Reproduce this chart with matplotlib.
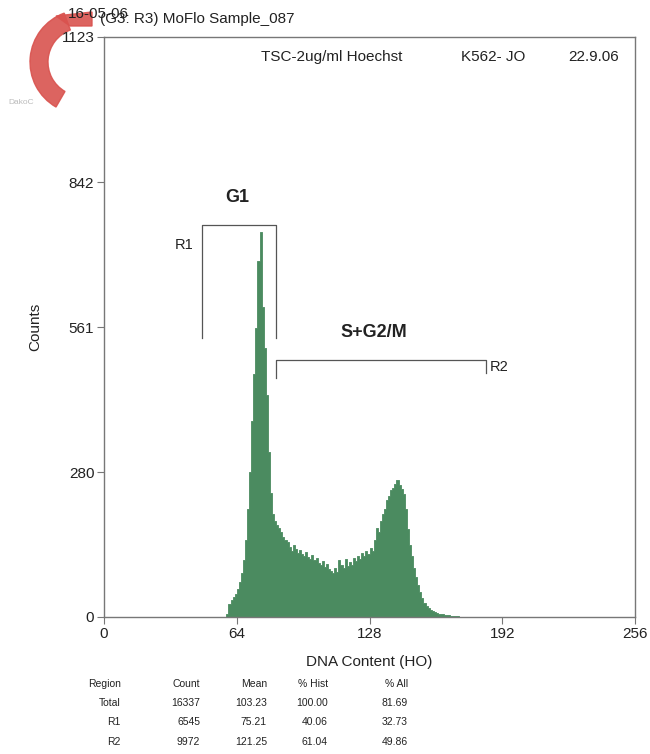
import numpy as np
import matplotlib
matplotlib.use("Agg")
import matplotlib.pyplot as plt
from matplotlib.patches import Wedge, Polygon

plt.rcParams['font.family'] = ['Liberation Sans', 'DejaVu Sans']

# histograma DNA (canal inicial 58)
canal_inicio = 58
conteos = [0, 5, 25, 33, 38, 45, 55, 68, 85, 110,
           150, 210, 280, 380, 470, 560, 690, 745, 600, 520,
           430, 320, 240, 200, 185, 178, 172, 165, 155, 150,
           145, 135, 128, 140, 132, 124, 130, 122, 118, 126,
           116, 112, 120, 110, 114, 104, 100, 108, 96, 102,
           92, 90, 85, 95, 88, 110, 100, 94, 112, 98,
           106, 100, 115, 108, 118, 112, 124, 118, 128, 122,
           134, 128, 150, 172, 165, 185, 200, 210, 226, 235,
           245, 250, 258, 265, 255, 248, 238, 210, 170, 140,
           118, 95, 78, 62, 48, 36, 28, 22, 17, 13,
           11, 9, 8, 6, 6, 5, 4, 4, 3, 2,
           2, 1, 1, 0]

x_ticks = [0, 64, 128, 192, 256]
y_ticks = [0, 280, 561, 842, 1123]

# regiones (gates)
r1_x = [47.3, 82.9]
r1_y = [540, 759]
r2_x = [83, 184]
r2_y = 497

# tabla de estadisticas
tabla_cols = ["Region", "Count", "Mean", "% Hist", "% All"]
tabla_filas = [
    ["Total", "16337", "103.23", "100.00", "81.69"],
    ["R1", "6545", "75.21", "40.06", "32.73"],
    ["R2", "9972", "121.25", "61.04", "49.86"],
]

W, H = 650, 754
fig = plt.figure(figsize=(6.5, 7.54), dpi=100)
ax = fig.add_axes([104 / W, 1 - 617 / H, 531 / W, 580 / H])

verde = "#4b8b60"
bordes = np.arange(canal_inicio, canal_inicio + len(conteos) + 1)
valores = np.append(conteos, conteos[-1])
ax.fill_between(bordes, valores, step="post", facecolor=verde, edgecolor=verde,
                lw=0.6, antialiased=False)

ax.set_xlim(0, 256)
ax.set_ylim(0, 1123)
ax.set_xticks(x_ticks)
ax.set_yticks(y_ticks)
ax.tick_params(direction="out", length=5, width=0.8, color="#777777",
               labelsize=11, labelcolor="#222222", pad=2)
for s in ax.spines.values():
    s.set_color("#777777")
    s.set_linewidth(1.0)
    s.set_zorder(3)

ax.set_xlabel("DNA Content (HO)", fontsize=11, color="#222222", labelpad=10)
ax.set_ylabel("Counts", fontsize=11, color="#222222", labelpad=14)

# gate R1
gc = "#555555"
ax.plot([r1_x[0], r1_x[0], r1_x[1], r1_x[1]],
        [r1_y[0], r1_y[1], r1_y[1], r1_y[0]], color=gc, lw=0.9)
ax.text(r1_x[0] - 4, 720, "R1", ha="right", va="center", fontsize=10.5, color="#222222")
ax.text(64, 812, "G1", ha="center", va="center", fontsize=13, fontweight="bold", color="#222222")

# gate R2
ax.plot([r2_x[0], r2_x[0], r2_x[1], r2_x[1]],
        [r2_y - 35, r2_y, r2_y, r2_y - 25], color=gc, lw=0.9)
ax.text(r2_x[1] + 2, r2_y - 12, "R2", ha="left", va="center", fontsize=10.5, color="#222222")
ax.text(130, 550, "S+G2/M", ha="center", va="center", fontsize=13, fontweight="bold", color="#222222")

# logo rojo
logo = fig.add_axes([0, 0, 1, 1], zorder=-1)
logo.set_xlim(0, W)
logo.set_ylim(H, 0)
logo.axis("off")
logo.add_patch(Wedge((82, 62), 52, 120, 250, width=18, color="#d9534f", alpha=0.9))
logo.add_patch(Polygon([[56, 16], [92, 12], [92, 26], [70, 26]], closed=True,
                       color="#d9534f", alpha=0.9))
logo.text(8, 103, "DakoC", fontsize=6, color="#bbbbbb", va="center")

# textos de cabecera
fig.text(68 / W, 1 - 14 / H, "16-05-06", fontsize=11, color="#222222", va="center")
fig.text(100 / W, 1 - 19 / H, "(G3: R3) MoFlo Sample_087", fontsize=11, color="#222222", va="center")
ax.text(0.295, 0.965, "TSC-2ug/ml Hoechst", transform=ax.transAxes,
        fontsize=11, color="#222222", va="center")
ax.text(0.672, 0.965, "K562- JO", transform=ax.transAxes, fontsize=11, color="#222222", va="center")
ax.text(0.875, 0.965, "22.9.06", transform=ax.transAxes, fontsize=11, color="#222222", va="center")

# tabla inferior
col_x = [121, 200, 267, 328, 408]
fila_y = [684, 703, 722, 742]
for j, c in enumerate(tabla_cols):
    fig.text(col_x[j] / W, 1 - fila_y[0] / H, c, fontsize=7.5, ha="right", va="center",
             color="#222222")
for i, fila in enumerate(tabla_filas):
    for j, v in enumerate(fila):
        fig.text(col_x[j] / W, 1 - fila_y[i + 1] / H, v, fontsize=7.5, ha="right", va="center",
                 color="#222222")

fig.savefig("out.png", dpi=100)
